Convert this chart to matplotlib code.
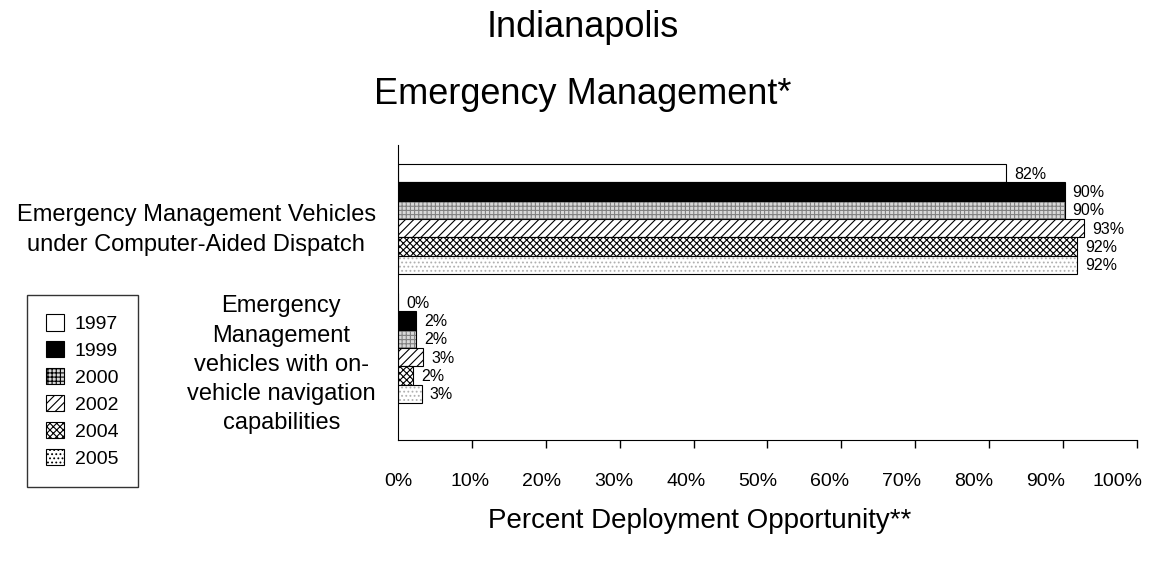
import numpy as np
import matplotlib
matplotlib.use('Agg')
import matplotlib.pyplot as plt
from matplotlib.patches import Patch

plt.rcParams['font.family'] = ['Liberation Sans', 'DejaVu Sans']
plt.rcParams['hatch.linewidth'] = 0.8

# Data
categories = ['Emergency Management Vehicles\nunder Computer-Aided Dispatch',
              'Emergency\nManagement\nvehicles with on-\nvehicle navigation\ncapabilities']
years = ['1997', '1999', '2000', '2002', '2004', '2005']
dispatch = [82.3, 90.2, 90.2, 92.9, 91.9, 91.9]
navigation = [0.0, 2.45, 2.45, 3.4, 2.0, 3.2]
xticks = [0, 10, 20, 30, 40, 50, 60, 70, 80, 90, 100]

# fill, hatch, hatch colour for each year
styles = [('white', '', 'black'),
          ('black', '', 'black'),
          ('#d8d8d8', '++++', '#808080'),
          ('white', '////', 'black'),
          ('white', 'xxxxx', 'black'),
          ('white', '....', '#b0b0b0')]

fig = plt.figure(figsize=(11.72, 5.65), dpi=100)
ax = fig.add_axes([0.3396, 0.2212, 0.6305, 0.5222])

groups = [dispatch, navigation]
group_step = 7.04
for g, vals in enumerate(groups):
    for i, v in enumerate(vals):
        y = g * group_step + i + 0.5
        fc, hatch, hc = styles[i]
        ax.barh(y, v, height=1.0, color=fc, edgecolor=hc, hatch=hatch, linewidth=0)
        ax.barh(y, v, height=1.0, color='none', edgecolor='black', linewidth=0.8)
        ax.text(v + 1.1, y + 0.05, '%.0f%%' % v, va='center', ha='left', fontsize=11.5)

ax.set_xlim(0, 100)
ax.set_ylim(15.06, -1.04)
# tick marks on the 10% grid, labels drift slightly left as in the original
ax.xaxis.remove_overlapping_locs = False
ax.set_xticks(xticks)
ax.set_xticklabels([])
ax.tick_params(axis='x', which='major', length=6, width=1)
ax.xaxis.get_major_ticks()[0].tick1line.set_visible(False)
ax.set_xticks([t * 0.974 for t in xticks], minor=True)
ax.set_xticklabels(['%d%%' % t for t in xticks], minor=True, fontsize=14)
ax.tick_params(axis='x', which='minor', length=0, pad=24)
ax.set_yticks([])
for s in ['top', 'right']:
    ax.spines[s].set_visible(False)

# category labels
ax.text(-0.273, 3.6, categories[0], transform=ax.get_yaxis_transform(),
        ha='center', va='center', fontsize=17, multialignment='center', linespacing=1.45)
ax.text(-0.158, 10.95, categories[1], transform=ax.get_yaxis_transform(),
        ha='center', va='center', fontsize=17, multialignment='center', linespacing=1.42)

fig.text(0.497, 0.952, 'Indianapolis', ha='center', va='center', fontsize=26)
fig.text(0.497, 0.832, 'Emergency Management*', ha='center', va='center', fontsize=26)
fig.text(0.597, 0.078, 'Percent Deployment Opportunity**', ha='center', va='center', fontsize=20)

handles = []
for i, yr in enumerate(years):
    fc, hatch, hc = styles[i]
    handles.append(Patch(facecolor=fc, edgecolor='black', hatch=hatch, linewidth=0.8, label=yr))
fig.legend(handles=handles, loc='upper left', bbox_to_anchor=(0.023, 0.478),
           fontsize=14, frameon=True, fancybox=False, edgecolor='black',
           handlelength=0.9, handleheight=0.9, handletextpad=0.55, labelspacing=0.42,
           borderpad=1.0, borderaxespad=0)

fig.savefig('out.png', dpi=100)
